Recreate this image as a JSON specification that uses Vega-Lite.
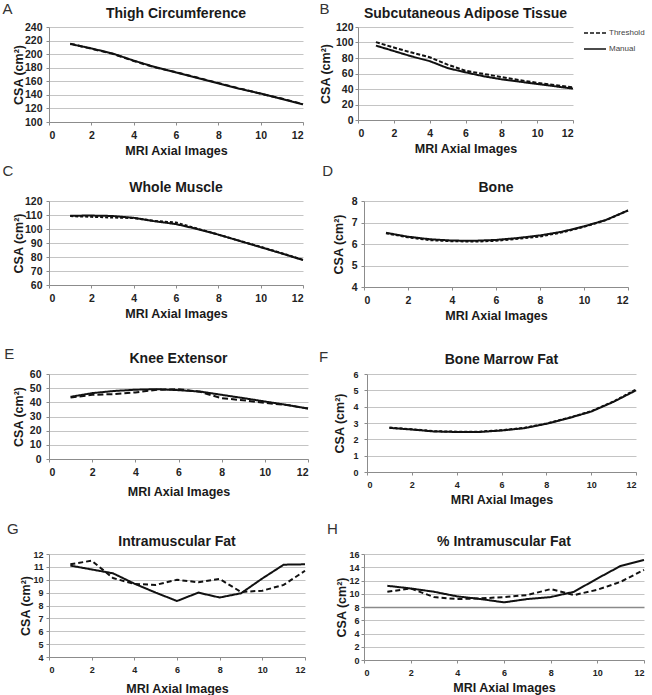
{
  "$schema": "https://vega.github.io/schema/vega-lite/v6.json",
  "padding": {"left": 2, "top": 2, "right": 0, "bottom": 0},
  "datasets": {
    "thigh": [
      {"image":1,"method":"Manual","csa":215},{"image":2,"method":"Manual","csa":208.5},{"image":3,"method":"Manual","csa":201},{"image":4,"method":"Manual","csa":190.5},{"image":5,"method":"Manual","csa":181},{"image":6,"method":"Manual","csa":173},{"image":7,"method":"Manual","csa":165},{"image":8,"method":"Manual","csa":157},{"image":9,"method":"Manual","csa":149},{"image":10,"method":"Manual","csa":142},{"image":11,"method":"Manual","csa":134},{"image":12,"method":"Manual","csa":126},
      {"image":1,"method":"Threshold","csa":215.5},{"image":2,"method":"Threshold","csa":208},{"image":3,"method":"Threshold","csa":200.5},{"image":4,"method":"Threshold","csa":190},{"image":5,"method":"Threshold","csa":180.5},{"image":6,"method":"Threshold","csa":173.5},{"image":7,"method":"Threshold","csa":165.5},{"image":8,"method":"Threshold","csa":157.5},{"image":9,"method":"Threshold","csa":149.5},{"image":10,"method":"Threshold","csa":141.5},{"image":11,"method":"Threshold","csa":134.5},{"image":12,"method":"Threshold","csa":126.5}
    ],
    "sat": [
      {"image":1,"method":"Manual","csa":96},{"image":2,"method":"Manual","csa":89},{"image":3,"method":"Manual","csa":82},{"image":4,"method":"Manual","csa":76},{"image":5,"method":"Manual","csa":67},{"image":6,"method":"Manual","csa":61.5},{"image":7,"method":"Manual","csa":56.5},{"image":8,"method":"Manual","csa":52.5},{"image":9,"method":"Manual","csa":49.5},{"image":10,"method":"Manual","csa":46.5},{"image":11,"method":"Manual","csa":43.5},{"image":12,"method":"Manual","csa":40.5},
      {"image":1,"method":"Threshold","csa":100.5},{"image":2,"method":"Threshold","csa":93.5},{"image":3,"method":"Threshold","csa":87},{"image":4,"method":"Threshold","csa":81},{"image":5,"method":"Threshold","csa":71.5},{"image":6,"method":"Threshold","csa":63.5},{"image":7,"method":"Threshold","csa":59.5},{"image":8,"method":"Threshold","csa":55.5},{"image":9,"method":"Threshold","csa":51.5},{"image":10,"method":"Threshold","csa":48},{"image":11,"method":"Threshold","csa":45},{"image":12,"method":"Threshold","csa":42}
    ],
    "muscle": [
      {"image":1,"method":"Manual","csa":109.5},{"image":2,"method":"Manual","csa":109.6},{"image":3,"method":"Manual","csa":109.3},{"image":4,"method":"Manual","csa":108},{"image":5,"method":"Manual","csa":105.5},{"image":6,"method":"Manual","csa":103.5},{"image":7,"method":"Manual","csa":100},{"image":8,"method":"Manual","csa":96},{"image":9,"method":"Manual","csa":91.5},{"image":10,"method":"Manual","csa":87},{"image":11,"method":"Manual","csa":82.5},{"image":12,"method":"Manual","csa":77.8},
      {"image":1,"method":"Threshold","csa":109.2},{"image":2,"method":"Threshold","csa":108.7},{"image":3,"method":"Threshold","csa":108.2},{"image":4,"method":"Threshold","csa":107.8},{"image":5,"method":"Threshold","csa":105.8},{"image":6,"method":"Threshold","csa":104.6},{"image":7,"method":"Threshold","csa":100.3},{"image":8,"method":"Threshold","csa":96},{"image":9,"method":"Threshold","csa":91.6},{"image":10,"method":"Threshold","csa":87.3},{"image":11,"method":"Threshold","csa":82.7},{"image":12,"method":"Threshold","csa":78}
    ],
    "bone": [
      {"image":1,"method":"Manual","csa":6.52},{"image":2,"method":"Manual","csa":6.34},{"image":3,"method":"Manual","csa":6.22},{"image":4,"method":"Manual","csa":6.16},{"image":5,"method":"Manual","csa":6.15},{"image":6,"method":"Manual","csa":6.19},{"image":7,"method":"Manual","csa":6.28},{"image":8,"method":"Manual","csa":6.4},{"image":9,"method":"Manual","csa":6.57},{"image":10,"method":"Manual","csa":6.82},{"image":11,"method":"Manual","csa":7.12},{"image":12,"method":"Manual","csa":7.56},
      {"image":1,"method":"Threshold","csa":6.5},{"image":2,"method":"Threshold","csa":6.31},{"image":3,"method":"Threshold","csa":6.18},{"image":4,"method":"Threshold","csa":6.13},{"image":5,"method":"Threshold","csa":6.11},{"image":6,"method":"Threshold","csa":6.15},{"image":7,"method":"Threshold","csa":6.24},{"image":8,"method":"Threshold","csa":6.35},{"image":9,"method":"Threshold","csa":6.54},{"image":10,"method":"Threshold","csa":6.8},{"image":11,"method":"Threshold","csa":7.11},{"image":12,"method":"Threshold","csa":7.56}
    ],
    "knee": [
      {"image":1,"method":"Manual","csa":43.9},{"image":2,"method":"Manual","csa":46.5},{"image":3,"method":"Manual","csa":48},{"image":4,"method":"Manual","csa":48.9},{"image":5,"method":"Manual","csa":49.3},{"image":6,"method":"Manual","csa":48.6},{"image":7,"method":"Manual","csa":47.6},{"image":8,"method":"Manual","csa":45.3},{"image":9,"method":"Manual","csa":43},{"image":10,"method":"Manual","csa":40.6},{"image":11,"method":"Manual","csa":38.2},{"image":12,"method":"Manual","csa":35.6},
      {"image":1,"method":"Threshold","csa":43.4},{"image":2,"method":"Threshold","csa":45.3},{"image":3,"method":"Threshold","csa":45.8},{"image":4,"method":"Threshold","csa":47},{"image":5,"method":"Threshold","csa":48.9},{"image":6,"method":"Threshold","csa":49.3},{"image":7,"method":"Threshold","csa":47.4},{"image":8,"method":"Threshold","csa":42.9},{"image":9,"method":"Threshold","csa":41.5},{"image":10,"method":"Threshold","csa":39.6},{"image":11,"method":"Threshold","csa":38.2},{"image":12,"method":"Threshold","csa":35.6}
    ],
    "marrow": [
      {"image":1,"method":"Manual","csa":2.7},{"image":2,"method":"Manual","csa":2.6},{"image":3,"method":"Manual","csa":2.48},{"image":4,"method":"Manual","csa":2.45},{"image":5,"method":"Manual","csa":2.45},{"image":6,"method":"Manual","csa":2.54},{"image":7,"method":"Manual","csa":2.68},{"image":8,"method":"Manual","csa":2.95},{"image":9,"method":"Manual","csa":3.3},{"image":10,"method":"Manual","csa":3.7},{"image":11,"method":"Manual","csa":4.3},{"image":12,"method":"Manual","csa":5.0},
      {"image":1,"method":"Threshold","csa":2.72},{"image":2,"method":"Threshold","csa":2.62},{"image":3,"method":"Threshold","csa":2.5},{"image":4,"method":"Threshold","csa":2.47},{"image":5,"method":"Threshold","csa":2.47},{"image":6,"method":"Threshold","csa":2.56},{"image":7,"method":"Threshold","csa":2.7},{"image":8,"method":"Threshold","csa":2.97},{"image":9,"method":"Threshold","csa":3.32},{"image":10,"method":"Threshold","csa":3.72},{"image":11,"method":"Threshold","csa":4.32},{"image":12,"method":"Threshold","csa":5.05}
    ],
    "imat": [
      {"image":1,"method":"Manual","csa":11.1},{"image":2,"method":"Manual","csa":10.8},{"image":3,"method":"Manual","csa":10.5},{"image":4,"method":"Manual","csa":9.7},{"image":5,"method":"Manual","csa":9.0},{"image":6,"method":"Manual","csa":8.35},{"image":7,"method":"Manual","csa":9.0},{"image":8,"method":"Manual","csa":8.62},{"image":9,"method":"Manual","csa":8.95},{"image":10,"method":"Manual","csa":10.1},{"image":11,"method":"Manual","csa":11.17},{"image":12,"method":"Manual","csa":11.2},
      {"image":1,"method":"Threshold","csa":11.2},{"image":2,"method":"Threshold","csa":11.48},{"image":3,"method":"Threshold","csa":10.13},{"image":4,"method":"Threshold","csa":9.67},{"image":5,"method":"Threshold","csa":9.6},{"image":6,"method":"Threshold","csa":10.0},{"image":7,"method":"Threshold","csa":9.8},{"image":8,"method":"Threshold","csa":10.06},{"image":9,"method":"Threshold","csa":9.05},{"image":10,"method":"Threshold","csa":9.15},{"image":11,"method":"Threshold","csa":9.6},{"image":12,"method":"Threshold","csa":10.7}
    ],
    "pimat": [
      {"image":1,"method":"Manual","csa":11.2},{"image":2,"method":"Manual","csa":10.8},{"image":3,"method":"Manual","csa":10.3},{"image":4,"method":"Manual","csa":9.6},{"image":5,"method":"Manual","csa":9.2},{"image":6,"method":"Manual","csa":8.7},{"image":7,"method":"Manual","csa":9.2},{"image":8,"method":"Manual","csa":9.5},{"image":9,"method":"Manual","csa":10.3},{"image":10,"method":"Manual","csa":12.3},{"image":11,"method":"Manual","csa":14.2},{"image":12,"method":"Manual","csa":15.1},
      {"image":1,"method":"Threshold","csa":10.3},{"image":2,"method":"Threshold","csa":10.8},{"image":3,"method":"Threshold","csa":9.5},{"image":4,"method":"Threshold","csa":9.2},{"image":5,"method":"Threshold","csa":9.3},{"image":6,"method":"Threshold","csa":9.5},{"image":7,"method":"Threshold","csa":9.8},{"image":8,"method":"Threshold","csa":10.7},{"image":9,"method":"Threshold","csa":9.8},{"image":10,"method":"Threshold","csa":10.6},{"image":11,"method":"Threshold","csa":11.8},{"image":12,"method":"Threshold","csa":13.6}
    ]
  },
  "resolve": {"scale": {"strokeDash": "independent"}, "legend": {"strokeDash": "independent"}},
  "spacing": 25,
  "vconcat": [
    {
      "spacing": 7,
      "resolve": {"scale": {"strokeDash": "independent"}, "legend": {"strokeDash": "independent"}},
      "vconcat": [
        {
          "spacing": 12,
          "resolve": {"scale": {"strokeDash": "independent"}, "legend": {"strokeDash": "independent"}},
          "hconcat": [
            {
              "title": {"text": "A", "anchor": "start", "frame": "bounds", "dx": -10, "dy": 10, "offset": 0, "fontSize": 15, "fontWeight": "normal", "color": "#333"},
              "resolve": {"scale": {"strokeDash": "independent"}, "legend": {"strokeDash": "independent"}},
              "vconcat": [
                {
                  "title": {"text": "Thigh Circumference", "offset": 1},
                  "width": 254, "height": 95,
                  "data": {"name": "thigh"},
                  "mark": {"type": "line", "strokeWidth": 2, "color": "#111"},
                  "encoding": {
                    "x": {"field": "image", "type": "quantitative", "scale": {"domain": [0, 12], "nice": false}, "axis": {"values": [0,2,4,6,8,10,12], "title": "MRI Axial Images"}},
                    "y": {"field": "csa", "type": "quantitative", "scale": {"domain": [100, 240], "nice": false, "zero": false}, "axis": {"values": [100,120,140,160,180,200,220,240], "title": "CSA (cm²)", "titlePadding": -1, "labelPadding": 4}},
                    "strokeDash": {"field": "method", "type": "nominal", "scale": {"domain": ["Threshold", "Manual"], "range": [[5,3],[1,0]]}, "legend": null}
                  }
                }
              ]
            },
            {
              "title": {"text": "B", "anchor": "start", "frame": "bounds", "dx": 0, "dy": 10, "offset": 0, "fontSize": 15, "fontWeight": "normal", "color": "#333"},
              "resolve": {"scale": {"strokeDash": "independent"}, "legend": {"strokeDash": "independent"}},
              "vconcat": [
                {
                  "title": {"text": "Subcutaneous Adipose Tissue", "offset": 1},
                  "width": 215, "height": 93,
                  "data": {"name": "sat"},
                  "mark": {"type": "line", "strokeWidth": 2, "color": "#111"},
                  "encoding": {
                    "x": {"field": "image", "type": "quantitative", "scale": {"domain": [0, 12], "nice": false}, "axis": {"values": [0,2,4,6,8,10,12], "title": "MRI Axial Images"}},
                    "y": {"field": "csa", "type": "quantitative", "scale": {"domain": [0, 120], "nice": false}, "axis": {"values": [0,20,40,60,80,100,120], "title": "CSA (cm²)", "titlePadding": 3, "labelPadding": 2}},
                    "strokeDash": {"field": "method", "type": "nominal", "scale": {"domain": ["Threshold", "Manual"], "range": [[4,2],[1,0]]},
                      "legend": {"title": null, "orient": "right", "offset": 12, "symbolType": "stroke", "symbolSize": 484, "symbolStrokeWidth": 1.5, "symbolStrokeColor": "#111", "labelFontSize": 8, "labelColor": "#444", "labelOffset": 2, "rowPadding": -6, "padding": -6}}
                  }
                }
              ]
            }
          ]
        },
        {
          "spacing": 15,
          "resolve": {"scale": {"strokeDash": "independent"}, "legend": {"strokeDash": "independent"}},
          "hconcat": [
            {
              "title": {"text": "C", "anchor": "start", "frame": "bounds", "dx": -10, "dy": -2, "offset": 0, "fontSize": 15, "fontWeight": "normal", "color": "#333"},
              "resolve": {"scale": {"strokeDash": "independent"}, "legend": {"strokeDash": "independent"}},
              "vconcat": [
                {
                  "title": {"text": "Whole Muscle", "offset": 1},
                  "width": 254, "height": 84,
                  "data": {"name": "muscle"},
                  "mark": {"type": "line", "strokeWidth": 2, "color": "#111"},
                  "encoding": {
                    "x": {"field": "image", "type": "quantitative", "scale": {"domain": [0, 12], "nice": false}, "axis": {"values": [0,2,4,6,8,10,12], "title": "MRI Axial Images"}},
                    "y": {"field": "csa", "type": "quantitative", "scale": {"domain": [60, 120], "nice": false, "zero": false}, "axis": {"values": [60,70,80,90,100,110,120], "title": "CSA (cm²)", "titlePadding": -1, "labelPadding": 4}},
                    "strokeDash": {"field": "method", "type": "nominal", "scale": {"domain": ["Threshold", "Manual"], "range": [[3,2],[1,0]]}, "legend": null}
                  }
                }
              ]
            },
            {
              "title": {"text": "D", "anchor": "start", "frame": "bounds", "dx": -10, "dy": -2, "offset": 0, "fontSize": 15, "fontWeight": "normal", "color": "#333"},
              "resolve": {"scale": {"strokeDash": "independent"}, "legend": {"strokeDash": "independent"}},
              "vconcat": [
                {
                  "title": {"text": "Bone", "offset": 1},
                  "width": 264, "height": 86,
                  "data": {"name": "bone"},
                  "mark": {"type": "line", "strokeWidth": 2, "color": "#111"},
                  "encoding": {
                    "x": {"field": "image", "type": "quantitative", "scale": {"domain": [0, 12], "nice": false}, "axis": {"values": [0,2,4,6,8,10,12], "title": "MRI Axial Images"}},
                    "y": {"field": "csa", "type": "quantitative", "scale": {"domain": [4, 8], "nice": false, "zero": false}, "axis": {"values": [4,5,6,7,8], "title": "CSA (cm²)", "titlePadding": 6, "labelPadding": 4}},
                    "strokeDash": {"field": "method", "type": "nominal", "scale": {"domain": ["Threshold", "Manual"], "range": [[3,2],[1,0]]}, "legend": null}
                  }
                }
              ]
            }
          ]
        }
      ]
    },
    {
      "spacing": 16,
      "resolve": {"scale": {"strokeDash": "independent"}, "legend": {"strokeDash": "independent"}},
      "vconcat": [
        {
          "spacing": 6,
          "resolve": {"scale": {"strokeDash": "independent"}, "legend": {"strokeDash": "independent"}},
          "hconcat": [
            {
              "title": {"text": "E", "anchor": "start", "frame": "bounds", "dx": -8, "dy": 10, "offset": 0, "fontSize": 15, "fontWeight": "normal", "color": "#333"},
              "resolve": {"scale": {"strokeDash": "independent"}, "legend": {"strokeDash": "independent"}},
              "vconcat": [
                {
                  "title": {"text": "Knee Extensor", "offset": 3},
                  "width": 259, "height": 85,
                  "data": {"name": "knee"},
                  "mark": {"type": "line", "strokeWidth": 2, "color": "#111"},
                  "encoding": {
                    "x": {"field": "image", "type": "quantitative", "scale": {"domain": [0, 12], "nice": false}, "axis": {"values": [0,2,4,6,8,10,12], "title": "MRI Axial Images", "titlePadding": 8}},
                    "y": {"field": "csa", "type": "quantitative", "scale": {"domain": [0, 60], "nice": false}, "axis": {"values": [0,10,20,30,40,50,60], "title": "CSA (cm²)", "titlePadding": 4, "labelPadding": 5}},
                    "strokeDash": {"field": "method", "type": "nominal", "scale": {"domain": ["Threshold", "Manual"], "range": [[6,3],[1,0]]}, "legend": null}
                  }
                }
              ]
            },
            {
              "title": {"text": "F", "anchor": "start", "frame": "bounds", "dx": -15, "dy": 12, "offset": 0, "fontSize": 15, "fontWeight": "normal", "color": "#333"},
              "resolve": {"scale": {"strokeDash": "independent"}, "legend": {"strokeDash": "independent"}},
              "vconcat": [
                {
                  "title": {"text": "Bone Marrow Fat", "offset": 3},
                  "width": 269, "height": 98,
                  "data": {"name": "marrow"},
                  "mark": {"type": "line", "strokeWidth": 2, "color": "#111"},
                  "encoding": {
                    "x": {"field": "image", "type": "quantitative", "scale": {"domain": [0, 12], "nice": false}, "axis": {"values": [0,2,4,6,8,10,12], "title": "MRI Axial Images", "labelFontSize": 9}},
                    "y": {"field": "csa", "type": "quantitative", "scale": {"domain": [0, 6], "nice": false}, "axis": {"values": [0,1,2,3,4,5,6], "title": "CSA (cm²)", "titlePadding": 6, "labelPadding": 6, "labelFontSize": 9}},
                    "strokeDash": {"field": "method", "type": "nominal", "scale": {"domain": ["Threshold", "Manual"], "range": [[3,2],[1,0]]}, "legend": null}
                  }
                }
              ]
            }
          ]
        },
        {
          "spacing": 17,
          "resolve": {"scale": {"strokeDash": "independent"}, "legend": {"strokeDash": "independent"}},
          "hconcat": [
            {
              "title": {"text": "G", "anchor": "start", "frame": "bounds", "dx": -13, "dy": 2, "offset": 0, "fontSize": 15, "fontWeight": "normal", "color": "#333"},
              "resolve": {"scale": {"strokeDash": "independent"}, "legend": {"strokeDash": "independent"}},
              "vconcat": [
                {
                  "title": {"text": "Intramuscular Fat", "offset": 1},
                  "width": 256, "height": 103,
                  "data": {"name": "imat"},
                  "mark": {"type": "line", "strokeWidth": 2, "color": "#111"},
                  "encoding": {
                    "x": {"field": "image", "type": "quantitative", "scale": {"domain": [0, 12], "nice": false}, "axis": {"values": [0,2,4,6,8,10,12], "title": "MRI Axial Images", "labelFontSize": 9, "titlePadding": 8}},
                    "y": {"field": "csa", "type": "quantitative", "scale": {"domain": [4, 12], "nice": false, "zero": false}, "axis": {"values": [4,5,6,7,8,9,10,11,12], "title": "CSA (cm²)", "titlePadding": 0, "labelPadding": 3, "labelFontSize": 9}},
                    "strokeDash": {"field": "method", "type": "nominal", "scale": {"domain": ["Threshold", "Manual"], "range": [[5,3],[1,0]]}, "legend": null}
                  }
                }
              ]
            },
            {
              "title": {"text": "H", "anchor": "start", "frame": "bounds", "dx": -9, "dy": 2, "offset": 0, "fontSize": 15, "fontWeight": "normal", "color": "#333"},
              "resolve": {"scale": {"strokeDash": "independent"}, "legend": {"strokeDash": "independent"}},
              "vconcat": [
                {
                  "title": {"text": "% Intramuscular Fat", "offset": 1},
                  "width": 280, "height": 106,
                  "data": {"name": "pimat"},
                  "mark": {"type": "line", "strokeWidth": 2, "color": "#111"},
                  "encoding": {
                    "x": {"field": "image", "type": "quantitative", "scale": {"domain": [0, 12], "nice": false}, "axis": {"values": [0,2,4,6,8,10,12], "title": "MRI Axial Images", "labelFontSize": 9}},
                    "y": {"field": "csa", "type": "quantitative", "scale": {"domain": [0, 16], "nice": false}, "axis": {"values": [0,2,4,6,8,10,12,14,16], "title": "CSA (cm²)", "titlePadding": 0, "labelPadding": 2, "labelFontSize": 9,
                      "gridColor": {"condition": {"test": "datum.value === 8", "value": "#8a8a8a"}, "value": "#c4c4c4"},
                      "gridWidth": {"condition": {"test": "datum.value === 8", "value": 1.5}, "value": 1}}},
                    "strokeDash": {"field": "method", "type": "nominal", "scale": {"domain": ["Threshold", "Manual"], "range": [[5,3],[1,0]]}, "legend": null}
                  }
                }
              ]
            }
          ]
        }
      ]
    }
  ],
  "config": {
    "font": "Liberation Sans",
    "view": {"stroke": null},
    "title": {"fontSize": 14, "fontWeight": "bold", "color": "#1a1a1a", "frame": "group", "anchor": "middle"},
    "axis": {"labelFontSize": 10.5, "labelFontWeight": "bold", "labelColor": "#222", "titleFontSize": 12.5, "titleFontWeight": "bold", "titleColor": "#1a1a1a", "domainColor": "#8c8c8c", "tickColor": "#8c8c8c", "gridColor": "#c4c4c4", "tickSize": 3},
    "axisX": {"grid": false, "labelPadding": 5, "titlePadding": 4},
    "axisY": {"grid": true}
  }
}
